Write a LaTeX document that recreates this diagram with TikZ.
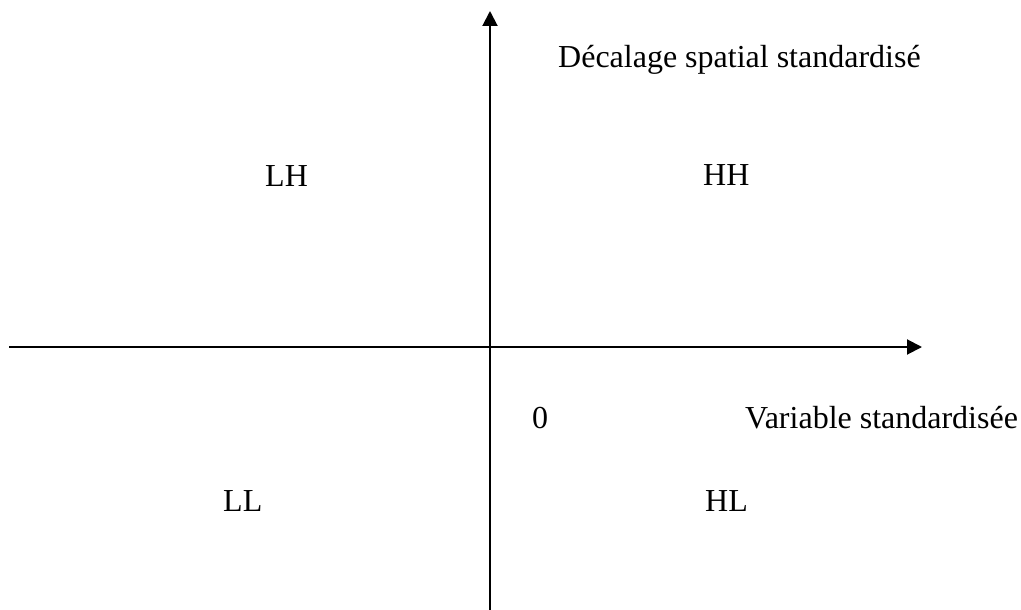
\documentclass[tikz,border=0pt]{standalone}
\usepackage{fontspec}
\setmainfont{Liberation Serif}
\usetikzlibrary{arrows.meta}
\begin{document}
\begin{tikzpicture}[x=1pt,y=-1pt,
  axis/.style={line width=2pt,-{Triangle[width=15pt,length=15pt]}},
  lbl/.style={anchor=base west,inner sep=0pt,font=\fontsize{32}{38}\selectfont}]
\useasboundingbox (0,0) rectangle (1021,610);
\coordinate (xs) at (9,347);
\coordinate (xe) at (922,347);
\coordinate (ys) at (490,610);
\coordinate (ye) at (490,11);
\draw[axis] (xs) -- (xe);
\draw[axis] (ys) -- (ye);
\node[lbl] (ylab) at (558,67) {Décalage spatial standardisé};
\node[lbl] (lh) at (265,186) {LH};
\node[lbl] (hh) at (703,185) {HH};
\node[lbl] (zero) at (532,428) {0};
\node[lbl] (xlab) at (745,428) {Variable standardisée};
\node[lbl] (ll) at (223,511) {LL};
\node[lbl] (hl) at (705,511) {HL};
\end{tikzpicture}
\end{document}
